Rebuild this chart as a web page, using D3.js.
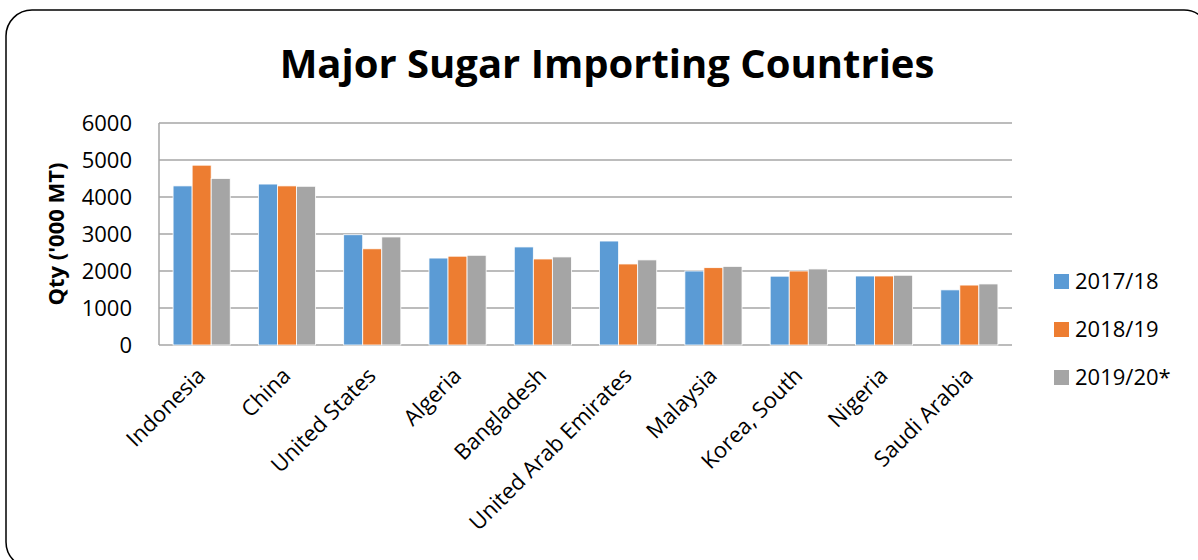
<!DOCTYPE html>
<html>
<head>
<meta charset="utf-8">
<script src="https://cdn.jsdelivr.net/npm/d3@7"></script>
<style>
  body { margin: 0; background: #fff; }
  svg text { font-family: "Open Sans", "Noto Sans", sans-serif; fill: #000; }
</style>
</head>
<body>
<div id="chart"></div>
<script>
var countries = ["Indonesia", "China", "United States", "Algeria", "Bangladesh",
                 "United Arab Emirates", "Malaysia", "Korea, South", "Nigeria", "Saudi Arabia"];
var seriesNames = ["2017/18", "2018/19", "2019/20*"];
var y2017 = [4300, 4350, 2980, 2350, 2650, 2810, 2000, 1860, 1865, 1490];
var y2018 = [4860, 4300, 2600, 2400, 2325, 2190, 2090, 2000, 1865, 1620];
var y2019 = [4500, 4290, 2920, 2425, 2380, 2300, 2125, 2055, 1885, 1650];
var yTicks = [0, 1000, 2000, 3000, 4000, 5000, 6000];
var colors = ["#5B9BD5", "#ED7D31", "#A5A5A5"];

var width = 1198, height = 560;
var margin = {left: 159, right: 186, top: 123, bottom: 215};

var svg = d3.select("#chart").append("svg")
    .attr("width", width)
    .attr("height", height);

// outer rounded frame
svg.append("rect")
    .attr("x", 6).attr("y", 10)
    .attr("width", 1204).attr("height", 558)
    .attr("rx", 26).attr("ry", 26)
    .attr("fill", "none")
    .attr("stroke", "#000")
    .attr("stroke-width", 1.5);

svg.append("text")
    .attr("x", 607).attr("y", 78)
    .attr("text-anchor", "middle")
    .style("font-weight", "bold")
    .style("font-size", "40px")
    .text("Major Sugar Importing Countries");

var plotW = width - margin.left - margin.right;
var plotH = height - margin.top - margin.bottom;

var g = svg.append("g")
    .attr("transform", "translate(" + margin.left + "," + margin.top + ")");

var x = d3.scaleBand()
    .domain(countries)
    .range([0, plotW])
    .paddingInner(0.33)
    .paddingOuter(0.165);

var xs = d3.scaleBand()
    .domain(seriesNames)
    .range([0, x.bandwidth()]);

var y = d3.scaleLinear()
    .domain([0, 6000])
    .range([plotH, 0]);

// gridlines
g.selectAll("line.grid")
    .data(yTicks)
    .enter().append("line")
    .attr("class", "grid")
    .attr("x1", 0).attr("x2", plotW)
    .attr("y1", function(d) { return y(d); })
    .attr("y2", function(d) { return y(d); })
    .attr("stroke", "#a6a6a6")
    .attr("stroke-width", 1.5);

g.append("line")
    .attr("x1", 0).attr("x2", 0)
    .attr("y1", 0).attr("y2", plotH)
    .attr("stroke", "#a6a6a6")
    .attr("stroke-width", 1.5);

var rows = countries.map(function(c, i) {
    return {country: c, values: [y2017[i], y2018[i], y2019[i]]};
});

var groups = g.selectAll("g.cat")
    .data(rows)
    .enter().append("g")
    .attr("class", "cat")
    .attr("transform", function(d) { return "translate(" + x(d.country) + ",0)"; });

groups.selectAll("rect")
    .data(function(d) { return d.values.map(function(v, j) { return {s: seriesNames[j], v: v, j: j}; }); })
    .enter().append("rect")
    .attr("x", function(d) { return xs(d.s); })
    .attr("y", function(d) { return y(d.v); })
    .attr("width", xs.bandwidth())
    .attr("height", function(d) { return plotH - y(d.v); })
    .attr("fill", function(d) { return colors[d.j]; })
    .attr("stroke", "#fff")
    .attr("stroke-width", 0.8);

// y axis labels
var yAxis = g.append("g")
    .call(d3.axisLeft(y).tickValues(yTicks).tickFormat(d3.format("d")).tickSize(0).tickPadding(27));
yAxis.select(".domain").remove();
yAxis.selectAll("text")
    .style("font-size", "22px")
    .style("font-family", "'Open Sans', sans-serif");

// x axis labels
var xAxis = g.append("g")
    .attr("transform", "translate(0," + plotH + ")")
    .call(d3.axisBottom(x).tickSize(0).tickPadding(0));
xAxis.select(".domain").remove();
xAxis.selectAll("text")
    .style("font-size", "22px")
    .style("font-family", "'Open Sans', sans-serif")
    .attr("text-anchor", "end")
    .attr("dy", null)
    .attr("transform", "translate(5,32) rotate(-45)");

svg.append("text")
    .attr("transform", "translate(64," + (margin.top + plotH / 2) + ") rotate(-90)")
    .attr("text-anchor", "middle")
    .style("font-weight", "bold")
    .style("font-size", "22px")
    .text("Qty ('000 MT)");

// legend
var legend = svg.append("g")
    .attr("transform", "translate(1054,274)");
var items = legend.selectAll("g")
    .data(seriesNames)
    .enter().append("g")
    .attr("transform", function(d, i) { return "translate(0," + (i * 48) + ")"; });
items.append("rect")
    .attr("width", 15).attr("height", 15)
    .attr("fill", function(d, i) { return colors[i]; });
items.append("text")
    .attr("x", 21).attr("y", 15)
    .style("font-size", "22px")
    .text(function(d) { return d; });
</script>
</body>
</html>
